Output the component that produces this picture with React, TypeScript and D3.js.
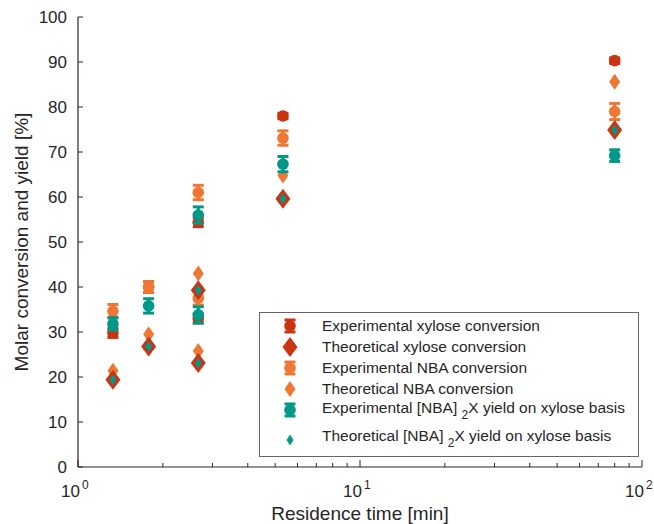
import React from "react";
import * as d3 from "d3";

const residenceTimes = [1.33, 1.78, 2.67, 2.67, 5.33, 80];

const expXylose = [29.8, 40.0, 54.4, 33.0, 78.0, 90.3];
const expXyloseErr = [1.0, 1.2, 1.0, 1.0, 0.6, 0.6];
const theoXylose = [19.4, 26.8, 39.3, 23.1, 59.6, 74.9];

const expNBA = [34.6, 40.0, 61.0, 37.5, 73.1, 79.0];
const expNBAErr = [1.5, 1.2, 1.6, 1.5, 1.6, 1.8];
const theoNBA = [21.4, 29.5, 43.0, 25.8, 64.8, 85.6];

const expYield = [31.8, 35.8, 56.0, 33.8, 67.3, 69.2];
const expYieldErr = [1.4, 1.6, 1.8, 1.8, 1.7, 1.3];
const theoYield = [19.4, 26.8, 39.3, 23.1, 59.6, 74.9];

const yTicks = [0, 10, 20, 30, 40, 50, 60, 70, 80, 90, 100];
const xMajorTicks = [1, 10, 100];
const xTickExponents = ["0", "1", "2"];

const legendLabels = [
  "Experimental xylose conversion",
  "Theoretical xylose conversion",
  "Experimental NBA conversion",
  "Theoretical NBA conversion",
  "Experimental [NBA]|2|X yield on xylose basis",
  "Theoretical [NBA]|2|X yield on xylose basis",
];

const RED = "#CC3311";
const ORANGE = "#EE7733";
const TEAL = "#009988";
const AXIS = "#262626";
const FONT = "'Liberation Sans', Arial, Helvetica, sans-serif";

const W = 654;
const H = 524;

const x = d3.scaleLog().domain([1, 100]).range([78, 642]);
const y = d3.scaleLinear().domain([0, 100]).range([467, 17]);

function diamondPath(cx: number, cy: number, w: number, h: number) {
  return `M${cx},${cy - h / 2}L${cx + w / 2},${cy}L${cx},${cy + h / 2}L${cx - w / 2},${cy}Z`;
}

function ErrCircle({ cx, cy, top, bot, color }: { cx: number; cy: number; top: number; bot: number; color: string }) {
  return (
    <g>
      <line x1={cx} x2={cx} y1={top} y2={bot} stroke={color} strokeWidth={3} />
      <line x1={cx - 5.5} x2={cx + 5.5} y1={top} y2={top} stroke={color} strokeWidth={3} />
      <line x1={cx - 5.5} x2={cx + 5.5} y1={bot} y2={bot} stroke={color} strokeWidth={3} />
      <circle cx={cx} cy={cy} r={5.8} fill={color} />
    </g>
  );
}

function expSeries(vals: number[], errs: number[], color: string) {
  return vals.map((v, i) => (
    <ErrCircle
      key={i}
      cx={x(residenceTimes[i])}
      cy={y(v)}
      top={y(v + errs[i])}
      bot={y(v - errs[i])}
      color={color}
    />
  ));
}

function diamondSeries(vals: number[], w: number, h: number, color: string) {
  return vals.map((v, i) => (
    <path key={i} d={diamondPath(x(residenceTimes[i]), y(v), w, h)} fill={color} />
  ));
}

const LEG_FS = 15.5;

function LegendText({ label, tx, ty }: { label: string; tx: number; ty: number }) {
  const parts = label.split("|");
  if (parts.length === 1) {
    return (
      <text x={tx} y={ty} dy="0.35em" fontSize={LEG_FS} fill={AXIS} fontFamily={FONT}>
        {label}
      </text>
    );
  }
  return (
    <text x={tx} y={ty} dy="0.35em" fontSize={LEG_FS} fill={AXIS} fontFamily={FONT}>
      <tspan>{parts[0] + " "}</tspan>
      <tspan fontSize={12} dy={6}>{parts[1]}</tspan>
      <tspan dy={-6}>{parts[2]}</tspan>
    </text>
  );
}

export default function App() {
  const minorTicks: number[] = [];
  for (const dec of [1, 10]) {
    for (let k = 2; k <= 9; k++) minorTicks.push(dec * k);
  }

  const legX = 290;
  const legRows = [326, 347, 368, 389, 410, 438];
  const textX = 322;

  return (
    <svg
      width={W}
      height={H}
      style={{ position: "absolute", left: 0, top: 0, background: "#fff" }}
    >
      <rect x={0} y={0} width={W} height={H} fill="#fff" />

      {/* axes */}
      <line x1={78} x2={78} y1={y(100)} y2={y(0)} stroke={AXIS} strokeWidth={1.2} />
      <line x1={78} x2={642} y1={y(0)} y2={y(0)} stroke={AXIS} strokeWidth={1.2} />
      {yTicks.map((t) => (
        <g key={t}>
          <line x1={78} x2={83} y1={y(t)} y2={y(t)} stroke={AXIS} strokeWidth={1} />
          <text
            x={67}
            y={y(t)}
            dy="0.35em"
            textAnchor="end"
            fontSize={17}
            fill={AXIS}
            fontFamily={FONT}
          >
            {t}
          </text>
        </g>
      ))}
      {xMajorTicks.map((t, i) => (
        <g key={t}>
          <line x1={x(t)} x2={x(t)} y1={y(0)} y2={y(0) - 7} stroke={AXIS} strokeWidth={1} />
          <text x={x(t) + 2} y={y(0) + 30} textAnchor="end" fontSize={17} fill={AXIS} fontFamily={FONT}>
            10
          </text>
          <text x={x(t) + 4} y={y(0) + 22} fontSize={12} fill={AXIS} fontFamily={FONT}>
            {xTickExponents[i]}
          </text>
        </g>
      ))}
      {minorTicks.map((t) => (
        <line key={t} x1={x(t)} x2={x(t)} y1={y(0)} y2={y(0) - 4} stroke={AXIS} strokeWidth={1} />
      ))}

      <text
        x={360}
        y={520}
        textAnchor="middle"
        fontSize={19}
        fill={AXIS}
        fontFamily={FONT}
      >
        Residence time [min]
      </text>
      <text
        transform={`translate(28,242) rotate(-90)`}
        textAnchor="middle"
        fontSize={19}
        fill={AXIS}
        fontFamily={FONT}
      >
        Molar conversion and yield [%]
      </text>

      {/* data */}
      {expSeries(expXylose, expXyloseErr, RED)}
      {expSeries(expNBA, expNBAErr, ORANGE)}
      {diamondSeries(theoNBA, 11, 16, ORANGE)}
      {expSeries(expYield, expYieldErr, TEAL)}
      {diamondSeries(theoXylose, 15, 20, RED)}
      {diamondSeries(theoYield, 7, 11, TEAL)}

      {/* legend */}
      <rect x={259.5} y={312.5} width={379} height={144} fill="#fff" stroke="#666" strokeWidth={1} />
      <ErrCircle cx={legX} cy={legRows[0]} top={legRows[0] - 6} bot={legRows[0] + 6} color={RED} />
      <path d={diamondPath(legX, legRows[1], 15, 20)} fill={RED} />
      <ErrCircle cx={legX} cy={legRows[2]} top={legRows[2] - 6} bot={legRows[2] + 6} color={ORANGE} />
      <path d={diamondPath(legX, legRows[3], 11, 16)} fill={ORANGE} />
      <ErrCircle cx={legX} cy={legRows[4]} top={legRows[4] - 6} bot={legRows[4] + 6} color={TEAL} />
      <path d={diamondPath(legX, legRows[5] + 2, 7, 11)} fill={TEAL} />
      {legendLabels.map((l, i) => (
        <LegendText key={i} label={l} tx={textX} ty={legRows[i] - (i >= 4 ? 2 : 0)} />
      ))}
    </svg>
  );
}
